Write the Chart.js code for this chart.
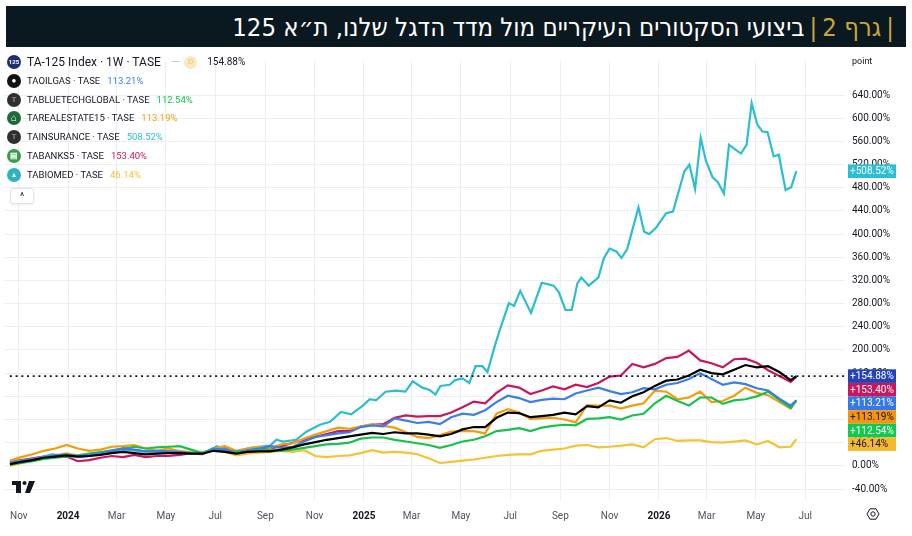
<!DOCTYPE html>
<html>
<head>
<meta charset="utf-8">
<script src="https://cdn.jsdelivr.net/npm/chart.js@4.4.1/dist/chart.umd.min.js"></script>
<style>
  html, body { margin: 0; padding: 0; background: #fff; }
  body { width: 912px; height: 536px; position: relative; overflow: hidden; font-family: Roboto, "Liberation Sans", sans-serif; }
  #header { position: absolute; left: 6px; top: 6px; width: 900px; height: 41px; background: #0a1820;
    direction: rtl; display: flex; align-items: center; padding-right: 7px; box-sizing: border-box;
    font-family: "DejaVu Sans Condensed", "DejaVu Sans", sans-serif; font-size: 25.5px; color: #fff; white-space: nowrap; }
  #header .gold { color: #c9a63c; }
  #header .bar { color: #c9a63c; margin: 0 5px; font-weight: 300; }
  #wrap { position: absolute; left: 0; top: 48px; width: 912px; height: 488px; }
  .row { position: absolute; left: 7px; height: 16px; line-height: 16px; font-size: 9.5px; color: #131722;
    white-space: nowrap; display: flex; align-items: center; }
  .row.main { font-size: 12px; }
  .ico { width: 14px; height: 14px; border-radius: 50%; margin-right: 6px; display: inline-flex;
    align-items: center; justify-content: center; font-size: 8px; color: #fff; font-weight: bold; flex: none; }
  .val { margin-left: 7px; }
  .pill { margin-left: 10px; color: #c9c9cc; display: inline-flex; align-items: center; }
  .pill .d { width: 13px; height: 13px; border-radius: 50%; background: #fbe9bd; color: #eac46e; font-size: 8px;
    display: inline-flex; align-items: center; justify-content: center; margin-left: 4px; }
  #collapse { position: absolute; left: 10px; top: 188px; width: 22px; height: 14px; border: 1px solid #e0e3eb;
    border-radius: 3px; background: #fff; font-size: 10px; line-height: 16px; text-align: center; color: #131722;
    box-shadow: 0 1px 2px rgba(0,0,0,0.08); }
</style>
</head>
<body>
<div id="header"><span class="bar">|</span><span class="gold">גרף 2</span><span class="bar">|</span><span>ביצועי הסקטורים העיקריים מול מדד הדגל שלנו, ת״א 125</span></div>
<div id="wrap"><canvas id="chart" width="912" height="488"></canvas></div>
<div id="legend"></div>
<div id="collapse">^</div>
<script>
// weeks since 21 Oct 2023, sampled every two weeks
const weeks = [0,2,4,6,8,10,12,14,16,18,20,22,24,26,28,30,32,34,36,38,40,42,44,46,48,50,52,54,56,58,
  60,62,64,66,68,70,72,74,76,78,80,82,84,86,88,90,92,94,96,98,100,102,104,106,108,110,112,114,116,118,
  120,122,124,126,128,130,132,134,136,138,139];

const ta125 = [3,7,10,14,16,18,16,17,19,22,24,22,20,21,22,22,21,21,26,24,
  21,24,25,25,28,32,37,41,45,48,51,54,57,55,58,56,56,54,51,55,
  63,67,67,83,92,91,84,86,88,92,89,103,101,113,109,120,127,138,147,149,
  156,166,160,158,166,174,170,172,162,148,154.88];
const oilGas = [6,8,11,15,18,20,17,19,22,26,30,28,25,26,25,24,22,21,29,28,
  22,27,30,34,31,33,42,50,53,56,58,67,70,68,82,78,74,76,72,84,
  90,88,96,110,121,117,110,114,116,115,125,130,135,129,124,127,134,132,140,143,
  150,160,150,140,144,141,134,130,116,104,113.21];
const blueTech = [2,5,8,12,14,16,18,21,24,27,30,33,30,32,33,34,28,22,30,26,
  25,26,27,27,26,28,31,34,37,38,40,47,49,49,45,42,39,36,31,36,
  42,45,51,60,62,65,60,66,69,71,70,81,82,84,80,87,90,108,121,112,
  104,118,118,107,113,115,120,128,114,100,112.54];
const realEstate = [9,15,20,26,30,36,30,26,28,33,34,36,30,26,30,25,22,20,30,34,
  26,30,33,31,37,39,47,54,60,66,64,68,72,69,66,58,50,48,53,59,
  60,60,56,90,98,92,81,82,83,80,75,105,104,104,99,104,108,130,128,115,
  118,128,110,112,121,135,126,122,110,99,113.19];
const banks = [7,10,13,16,17,16,8,10,14,17,15,19,15,17,17,19,22,21,28,30,
  23,28,30,30,34,40,45,50,55,60,60,68,71,72,83,87,85,86,86,92,
  101,111,108,126,139,135,124,130,137,132,140,136,143,154,156,176,170,176,186,188,
  199,182,177,170,184,185,178,165,155,145,153.4];
const bioMed = [0,5,9,13,18,22,18,19,21,24,30,27,24,24,25,26,24,24,27,24,
  18,21,23,24,26,24,27,17,15,17,18,22,27,23,24,23,20,13,5,7,
  9,11,14,17,19,20,20,26,28,30,35,36,32,33,35,37,32,46,48,43,
  44,44,41,40,42,44,37,43,32,33,46.14];

// insurance moves a lot week to week, so it keeps its own turning points
const insWeeks = [0,4.9,7.4,9.1,12.7,16.7,20.7,23.7,27.2,29.5,34.3,36.6,39.5,42.5,46,47.1,48.3,50.6,52.4,54.8,
  56.6,58.5,60.3,62.4,63.6,64.7,66.4,68.2,69.9,71.2,72.9,74.2,75.2,76.1,77.7,78.7,80,81.2,82.3,83.5,
  84.4,85.8,86.5,88.2,89.1,90.2,92.1,94,96.1,97,98.2,99.3,100.3,101,102.3,104,105,106,107.2,108.1,
  109.1,111.1,112.1,113,114.2,116,117.2,119.2,120.1,121.1,122.1,123,124.2,125.1,126.2,127.1,129.2,130.2,131.1,132.1,
  133,133.9,135,135.9,137.1,138.1,139];
const insurance = [6,13,20,18,15,22,28,25,25,23,22,34,24,31,35,45,42,45,59,71,
  76,93,89,104,115,113,128,130,128,146,135,131,123,138,140,148,151,143,172,172,
  162,210,232,281,276,302,264,316,311,300,269,269,315,325,311,325,359,375,370,359,
  374,446,404,400,411,436,439,508,520,478,566,527,498,490,470,554,539,554,626,589,
  577,576,534,537,476,481,508.52];

const xTickMonths = ['2023-11','2024-01','2024-03','2024-05','2024-07','2024-09','2024-11','2025-01','2025-03',
  '2025-05','2025-07','2025-09','2025-11','2026-01','2026-03','2026-05','2026-07'];
const xTickLabels = ['Nov','2024','Mar','May','Jul','Sep','Nov','2025','Mar','May','Jul','Sep','Nov','2026','Mar','May','Jul'];
const yTicks = [-40,0,40,80,120,160,200,240,280,320,360,400,440,480,520,560,600,640];

const startDate = Date.UTC(2023, 9, 21);
const xTickWeeks = xTickMonths.map(s => {
  const [y, m] = s.split('-').map(Number);
  return (Date.UTC(y, m - 1, 1) - startDate) / (7 * 86400000);
});
const xMin = -0.88, xMax = 147.6;

const last = arr => arr[arr.length - 1];
const pts = (xs, ys) => ys.map((v, i) => ({ x: xs[i], y: v }));

const series = [
  { name: 'TA-125 Index · 1W · TASE', data: pts(weeks, ta125), last: last(ta125), line: '#000000', box: '#2244b8', text: '#ffffff' },
  { name: 'TAOILGAS · TASE', data: pts(weeks, oilGas), last: last(oilGas), line: '#3a7ee6', box: '#3479ea', text: '#ffffff' },
  { name: 'TABLUETECHGLOBAL · TASE', data: pts(weeks, blueTech), last: last(blueTech), line: '#16c24e', box: '#11c850', text: '#ffffff' },
  { name: 'TAREALESTATE15 · TASE', data: pts(weeks, realEstate), last: last(realEstate), line: '#f59c0b', box: '#f7940f', text: '#131722' },
  { name: 'TAINSURANCE · TASE', data: pts(insWeeks, insurance), last: last(insurance), line: '#2cbdd3', box: '#28bfd4', text: '#ffffff' },
  { name: 'TABANKS5 · TASE', data: pts(weeks, banks), last: last(banks), line: '#c8175f', box: '#c8175f', text: '#ffffff' },
  { name: 'TABIOMED · TASE', data: pts(weeks, bioMed), last: last(bioMed), line: '#f6c232', box: '#f5b92e', text: '#131722' }
];

// legend (top left)
const icons = [
  { bg: '#1c2f6e', g: '125', size: '6px' },
  { bg: '#111111', g: '&#9679;', size: '8px' },
  { bg: '#2f2f2f', g: 'T', size: '8px', c: '#8a8a8a' },
  { bg: '#1f6b37', g: '&#8962;', size: '10px' },
  { bg: '#2f2f2f', g: 'T', size: '8px', c: '#8a8a8a' },
  { bg: '#3b9a4b', g: '&#9636;', size: '8px' },
  { bg: '#2fb3c2', g: '&#9650;', size: '7px' }
];
let html = '';
series.forEach((s, i) => {
  const ic = icons[i];
  const top = 54 + i * 18.8;
  const icon = `<span class="ico" style="background:${ic.bg};font-size:${ic.size};color:${ic.c || '#fff'}">${ic.g}</span>`;
  if (i === 0) {
    html += `<div class="row main" style="top:${top}px">${icon}${s.name}` +
      `<span class="pill">&#8212;<span class="d">D</span></span>` +
      `<span class="val" style="font-size:10px;margin-left:10px">${s.last.toFixed(2)}%</span></div>`;
  } else {
    html += `<div class="row" style="top:${top}px">${icon}${s.name}` +
      `<span class="val" style="color:${s.line}">${s.last.toFixed(2)}%</span></div>`;
  }
});
document.getElementById('legend').innerHTML = html;

// price-scale labels, "point", logo and settings icon
const extras = {
  id: 'extras',
  afterDraw(chart) {
    const { ctx, chartArea, scales } = chart;
    const y = scales.y;
    ctx.save();
    ctx.font = '9px Roboto';
    ctx.fillStyle = '#131722';
    ctx.textBaseline = 'middle';
    ctx.fillText('point', chartArea.right + 7, 14);

    const items = series.map(s => s).sort((a, b) => b.last - a.last);
    const h = 13.6;
    let prevBottom = -Infinity;
    ctx.font = '10px Roboto';
    items.forEach(s => {
      let top = y.getPixelForValue(s.last) - h / 2;
      if (top < prevBottom) top = prevBottom;
      ctx.fillStyle = s.box;
      ctx.fillRect(chartArea.right + 3, top, 48, h);
      ctx.fillStyle = s.text;
      ctx.fillText('+' + s.last.toFixed(2) + '%', chartArea.right + 5, top + h / 2 + 0.5);
      prevBottom = top + h;
    });

    // TradingView mark
    ctx.fillStyle = '#131722';
    ctx.fillRect(12, 433, 9, 4);
    ctx.fillRect(16, 433, 5, 12);
    ctx.beginPath();
    ctx.arc(24.5, 435, 2, 0, Math.PI * 2);
    ctx.fill();
    ctx.beginPath();
    ctx.moveTo(29, 433); ctx.lineTo(35, 433); ctx.lineTo(30, 445); ctx.lineTo(25, 445);
    ctx.closePath();
    ctx.fill();

    // settings hexagon
    const cx = 873, cy = 466, r = 6;
    ctx.strokeStyle = '#131722';
    ctx.lineWidth = 1;
    ctx.beginPath();
    for (let k = 0; k < 6; k++) {
      const a = Math.PI / 3 * k;
      const px = cx + r * Math.cos(a), py = cy + r * Math.sin(a);
      if (k === 0) ctx.moveTo(px, py); else ctx.lineTo(px, py);
    }
    ctx.closePath();
    ctx.stroke();
    ctx.beginPath();
    ctx.arc(cx, cy, 2.2, 0, Math.PI * 2);
    ctx.stroke();
    ctx.restore();
  }
};

const datasets = series.map(s => ({
  data: s.data,
  borderColor: s.line,
  borderWidth: 2.2,
  pointRadius: 0,
  tension: 0,
  fill: false
}));
// dotted last-value line of the index
datasets.splice(1, 0, {
  data: [{ x: 0, y: last(ta125) }, { x: xMax, y: last(ta125) }],
  borderColor: '#131722',
  borderWidth: 1.6,
  borderDash: [2, 3.7],
  pointRadius: 0,
  fill: false
});

new Chart(document.getElementById('chart'), {
  type: 'line',
  data: { datasets },
  options: {
    responsive: false,
    animation: false,
    layout: { padding: { top: 2, left: 0, right: 0, bottom: 0 } },
    plugins: { legend: { display: false }, tooltip: { enabled: false } },
    scales: {
      x: {
        type: 'linear',
        min: xMin,
        max: xMax,
        afterBuildTicks: scale => { scale.ticks = xTickWeeks.map(v => ({ value: v })); },
        afterFit: scale => { scale.height = 36; },
        grid: { color: '#eceef2', drawTicks: false },
        border: { display: false },
        ticks: {
          autoSkip: false,
          maxRotation: 0,
          padding: 10,
          callback: (v, i) => xTickLabels[i],
          color: ctx => /^\d/.test(xTickLabels[ctx.index]) ? '#131722' : '#50535e',
          font: ctx => ({ family: 'Roboto', size: 10, weight: /^\d/.test(xTickLabels[ctx.index]) ? 'bold' : 'normal' })
        }
      },
      y: {
        position: 'right',
        min: -58.9,
        max: 698.7,
        afterBuildTicks: scale => { scale.ticks = yTicks.map(v => ({ value: v })); },
        afterFit: scale => { scale.width = 67; },
        grid: { color: '#eceef2', drawTicks: false },
        border: { display: false },
        ticks: {
          padding: 7,
          color: '#131722',
          font: { family: 'Roboto', size: 10 },
          callback: v => v.toFixed(2) + '%'
        }
      }
    }
  },
  plugins: [extras]
});
</script>
</body>
</html>
